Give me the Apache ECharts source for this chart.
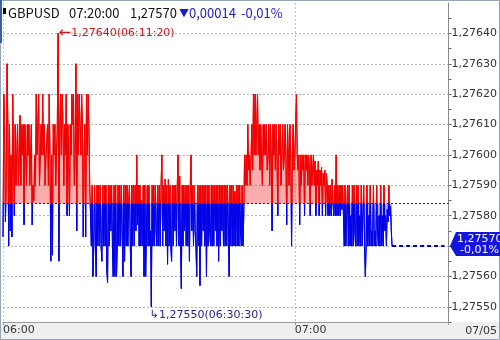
<!DOCTYPE html>
<html><head><meta charset="utf-8">
<script src="https://cdn.jsdelivr.net/npm/echarts@6/dist/echarts.min.js"></script>
<style>html,body{margin:0;padding:0;background:#fff}#c{width:500px;height:340px}</style>
</head><body><div id="c"></div>
<script>
const symbolName = 'GBPUSD';
const lastTimeLabel = '07:20:00';
const dateLabel = '07/05';
const prevClose = 1.27584;
const startHour = 6;
const stepSeconds = 10;
const xTickLabels = ['06:00', '07:00'];
const yTickValues = [1.2755, 1.2756, 1.2757, 1.2758, 1.2759, 1.2760, 1.2761, 1.2762, 1.2763, 1.2764];
const prices = [
1.27573,1.2762,1.2761,1.27578,1.2759,1.2763,
1.2761,1.2757,1.2761,1.27575,1.276,1.27573,
1.2762,1.276,1.2758,1.2761,1.2759,1.276,
1.2761,1.2759,1.276,1.27613,1.2759,1.2761,
1.276,1.2761,1.27577,1.2761,1.276,1.2759,
1.2761,1.276,1.2761,1.2759,1.276,1.2761,
1.27577,1.2759,1.27585,1.276,1.2759,1.2762,
1.276,1.2761,1.2762,1.2759,1.276,1.2761,
1.276,1.2762,1.276,1.2761,1.2759,1.276,
1.276,1.2761,1.2759,1.2762,1.276,1.27565,
1.276,1.27567,1.2761,1.276,1.2761,1.2759,
1.276,1.2761,1.2764,1.27565,1.2761,1.2762,
1.276,1.2762,1.2761,1.2759,1.2761,1.276,
1.2762,1.2758,1.2761,1.276,1.2758,1.2761,
1.276,1.2762,1.2761,1.2762,1.2759,1.276,
1.2763,1.27575,1.2762,1.276,1.2762,1.2761,
1.276,1.2762,1.2761,1.27573,1.276,1.2761,
1.27573,1.2762,1.276,1.2762,1.2761,1.2759,
1.2759,1.2757,1.2759,1.2756,1.2757,1.2759,
1.2757,1.2756,1.2759,1.2757,1.2759,1.2757,
1.2759,1.2757,1.27565,1.2759,1.2757,1.2759,
1.2757,1.2759,1.27562,1.27558,1.2759,1.2757,
1.2759,1.27575,1.2759,1.2757,1.2756,1.2759,
1.2756,1.2759,1.2756,1.2757,1.2759,1.2757,
1.2759,1.2757,1.2759,1.27575,1.2756,1.2759,
1.27565,1.2759,1.2757,1.2759,1.2757,1.27585,
1.2759,1.2757,1.2756,1.2759,1.2757,1.2759,
1.2757,1.2759,1.27575,1.276,1.27577,1.2759,
1.2757,1.2759,1.2757,1.27585,1.2757,1.2759,
1.2756,1.2759,1.2756,1.27575,1.2759,1.2757,
1.2759,1.2757,1.27575,1.2755,1.2759,1.2757,
1.2759,1.2757,1.2759,1.27575,1.2757,1.2759,
1.2757,1.2759,1.2757,1.2759,1.276,1.2757,
1.2759,1.27575,1.27592,1.2757,1.2759,1.27564,
1.27592,1.2757,1.2759,1.2757,1.27565,1.2759,
1.2757,1.2759,1.27575,1.2759,1.2757,1.2759,
1.276,1.2757,1.27593,1.2757,1.27556,1.2759,
1.2757,1.2759,1.27575,1.2759,1.2757,1.2759,
1.2757,1.2759,1.27565,1.2759,1.276,1.27575,
1.2759,1.2757,1.2759,1.27575,1.2757,1.2756,
1.2759,1.2757,1.2759,1.27557,1.2759,1.2757,
1.2759,1.27575,1.2759,1.2757,1.2759,1.2756,
1.2759,1.2757,1.2759,1.27575,1.2757,1.2759,
1.2757,1.2759,1.2757,1.2759,1.27575,1.2759,
1.2757,1.2759,1.27565,1.2759,1.2757,1.2759,
1.27575,1.2759,1.2757,1.2759,1.2757,1.2759,
1.2757,1.2759,1.27575,1.2756,1.2759,1.2757,
1.2759,1.2757,1.2759,1.2757,1.27588,1.2757,
1.2759,1.2757,1.2759,1.2757,1.2759,1.27575,
1.2757,1.2759,1.2757,1.2758,1.276,1.2759,
1.276,1.2759,1.2761,1.27595,1.276,1.2759,
1.276,1.2761,1.27595,1.2762,1.276,1.2762,
1.276,1.2761,1.2762,1.276,1.2761,1.27595,
1.2761,1.276,1.2759,1.2761,1.276,1.2761,
1.276,1.2761,1.27595,1.276,1.2761,1.2759,
1.2761,1.276,1.27575,1.2761,1.276,1.2761,
1.27595,1.2761,1.276,1.2758,1.2761,1.276,
1.2761,1.2759,1.276,1.2761,1.27595,1.276,
1.2761,1.276,1.27577,1.2761,1.276,1.2759,
1.2761,1.276,1.2757,1.276,1.2761,1.27595,
1.276,1.2761,1.2762,1.276,1.27595,1.276,
1.27577,1.276,1.2759,1.276,1.27595,1.276,
1.2758,1.276,1.27595,1.276,1.2759,1.276,
1.27595,1.2758,1.276,1.2759,1.27595,1.276,
1.2759,1.27598,1.2758,1.27595,1.2759,1.27598,
1.2758,1.27595,1.2759,1.27596,1.2758,1.27594,
1.2759,1.27595,1.2758,1.27594,1.2759,1.2758,
1.2759,1.2758,1.2759,1.2758,1.27592,1.27585,
1.2758,1.2759,1.2758,1.276,1.2758,1.2759,
1.2758,1.2759,1.2758,1.2759,1.27582,1.2759,
1.2758,1.2757,1.2759,1.2757,1.2758,1.2759,
1.2757,1.2759,1.2757,1.2758,1.2757,1.2759,
1.2757,1.2759,1.27575,1.2757,1.2759,1.2757,
1.2759,1.2757,1.2758,1.2757,1.2759,1.2757,
1.2757,1.2759,1.2757,1.2756,1.2757,1.2759,
1.2757,1.2758,1.2757,1.2759,1.2757,1.27575,
1.2757,1.2759,1.2757,1.27575,1.2757,1.2759,
1.27575,1.2757,1.2758,1.2757,1.2759,1.2757,
1.2758,1.2757,1.2759,1.27575,1.2758,1.2757,
1.27582,1.27578,1.2759,1.2758,1.27583,1.27575,
1.2757
];

const X_MAX = 91.6;       // axis extent in minutes after 06:00
const DASH_END = 90.8;
const Y_MIN = 1.27545, Y_MAX = 1.2765;
const AXIS_FONT = 'DejaVu Sans';
const HEAD_FONT = '"Noto Sans CJK JP", sans-serif';
const RED = '#f00000', BLUE = '#0000e8';

const stepMin = stepSeconds / 60;
const seriesData = prices.map((p, i) => [i * stepMin, p]);
const fmt = v => v.toFixed(5).replace('.', ',');
const pad = n => (n < 10 ? '0' : '') + n;
const timeStr = i => {
  const s = startHour * 3600 + i * stepSeconds;
  return pad(Math.floor(s / 3600)) + ':' + pad(Math.floor(s / 60) % 60) + ':' + pad(s % 60);
};
let iMax = 0, iMin = 0;
prices.forEach((p, i) => { if (p > prices[iMax]) iMax = i; if (p < prices[iMin]) iMin = i; });
const iLast = prices.length - 1;
const pLast = prices[iLast];
const change = pLast - prevClose;
const pct = change / prevClose * 100;
const changeArrow = change < 0 ? '▼' : '▲';
const changeVal = Math.abs(change).toFixed(5).replace('.', ',');
const pctStr = (pct < 0 ? '-' : '+') + Math.abs(pct).toFixed(2).replace('.', ',') + '%';

const chart = echarts.init(document.getElementById('c'), null, { renderer: 'canvas' });
const hdr = (x, text, fill, size) => ({ type: 'text', z: 101, x: x, y: 13, style: { text: text, font: (size || 13) + 'px ' + HEAD_FONT, fill: fill, verticalAlign: 'middle' } });
const baseGraphic = [
  { type: 'rect', z: -10, shape: { x: 0, y: 322, width: 500, height: 18 }, style: { fill: '#efefef' } },
  { type: 'rect', z: 100, shape: { x: 0.5, y: 0.5, width: 499, height: 339 }, style: { fill: 'none', stroke: '#96a4b8', lineWidth: 1 } },
  { type: 'rect', z: 101, shape: { x: 0, y: 0, width: 2, height: 43 }, style: { fill: '#3d5f9c' } },
  { type: 'rect', z: 101, shape: { x: 3, y: 8, width: 3, height: 6 }, style: { fill: '#000' } },
  hdr(8, symbolName, '#111'),
  hdr(69, lastTimeLabel, '#111'),
  hdr(130, fmt(pLast), '#111'),
  hdr(179, changeArrow, '#1c1cc4', 10),
  hdr(189, changeVal, '#1c1cc4'),
  hdr(241, pctStr, '#1c1cc4'),
  { type: 'text', z: 101, x: 497, y: 331, style: { text: dateLabel, font: '11px ' + AXIS_FONT, fill: '#333', align: 'right', verticalAlign: 'middle' } }
];

const hLine = (v, style) => [{ coord: [0, v], lineStyle: style }, { coord: [X_MAX, v] }];
const gridLineItems = yTickValues.map(v => hLine(v, { type: [2, 2], color: '#b4b4b4', width: 1 }));

try {
chart.setOption({
  animation: false,
  backgroundColor: '#fff',
  grid: { left: 3, right: 51, top: 3, bottom: 18 },
  xAxis: {
    type: 'value', min: 0, max: X_MAX, interval: 60,
    axisLine: { show: true, onZero: false, lineStyle: { color: '#999' } },
    axisTick: { show: true, length: 3, lineStyle: { color: '#999' } },
    axisLabel: {
      align: 'left', margin: 3, fontSize: 11, fontFamily: AXIS_FONT, color: '#333',
      formatter: v => (Math.abs(v % 60) < 1e-6 ? (xTickLabels[Math.round(v / 60)] || '') : '')
    },
    splitLine: { show: true, lineStyle: { type: [2, 2], color: '#c4c4c4' } }
  },
  yAxis: {
    type: 'value', position: 'right', min: Y_MIN, max: Y_MAX, interval: 0.00005,
    axisLine: { show: true, onZero: false, lineStyle: { color: '#8a8a8a' } },
    axisTick: { show: true, inside: false, length: 3, lineStyle: { color: '#666' } },
    axisLabel: {
      margin: 3, fontSize: 11, fontFamily: AXIS_FONT, color: '#333', showMaxLabel: false,
      formatter: v => (Math.round(v * 1e5) % 10 === 0 ? fmt(v) : '')
    },
    splitLine: { show: false }
  },
  visualMap: {
    type: 'piecewise', show: false, dimension: 1, seriesIndex: 0,
    pieces: [{ gt: prevClose, lte: Y_MAX, color: RED }, { gte: Y_MIN, lte: prevClose, color: BLUE }]
  },
  series: [
    {
      type: 'line', data: seriesData, showSymbol: false, symbol: 'none', z: 3,
      lineStyle: { width: 1 },
      areaStyle: { origin: prevClose, opacity: 0.32 },
      markPoint: {
        symbol: 'rect', symbolSize: 1, itemStyle: { color: 'rgba(0,0,0,0)' }, silent: true,
        data: [
          {
            coord: seriesData[iMax].slice(),
            label: {
              show: true, position: 'right', distance: 0,
              formatter: '{a|←}{t|' + fmt(prices[iMax]) + '(' + timeStr(iMax) + ')}',
              rich: { a: { fontSize: 15, color: '#c81818', fontFamily: AXIS_FONT }, t: { fontSize: 11, color: '#c81818', fontFamily: AXIS_FONT } }
            }
          },
          {
            coord: seriesData[iMin].slice(),
            label: {
              show: true, position: [-1, 3], align: 'left', verticalAlign: 'top',
              formatter: '{a|↳}{t|' + fmt(prices[iMin]) + '(' + timeStr(iMin) + ')}',
              rich: { a: { fontSize: 11, color: '#26268c', fontFamily: AXIS_FONT }, t: { fontSize: 11, color: '#26268c', fontFamily: AXIS_FONT } }
            }
          }
        ]
      },
      markLine: {
        silent: true, z: 6, symbol: ['none', 'none'], label: { show: false },
        data: [
          hLine(prevClose, { type: [2, 2], color: '#222', width: 1 }),
          [{ coord: seriesData[iLast].slice(), lineStyle: { type: [4, 3], color: '#0000c8', width: 2 } }, { coord: [DASH_END, pLast], lineStyle: { type: [4, 3], color: '#0000c8', width: 2 } }]
        ]
      }
    },
    {
      type: 'line', data: [], z: 1, silent: true,
      markLine: { silent: true, z: 1, symbol: ['none', 'none'], label: { show: false }, data: gridLineItems }
    }
  ],
  graphic: baseGraphic
});

const pt = chart.convertToPixel({ seriesIndex: 0 }, seriesData[iLast]);
const py = pt[1];
chart.setOption({
  graphic: baseGraphic.concat([
    { type: 'polygon', z: 102, shape: { points: [[450, py], [456, py - 14], [500, py - 14], [500, py + 10], [456, py + 10]] }, style: { fill: '#1414e0' } },
    { type: 'text', z: 103, x: 457, y: py - 7, style: { text: fmt(pLast), font: '11px ' + AXIS_FONT, fill: '#fff', verticalAlign: 'middle' } },
    { type: 'text', z: 103, x: 499, y: py + 4, style: { text: pctStr, font: '11px ' + AXIS_FONT, fill: '#fff', align: 'right', verticalAlign: 'middle' } }
  ])
});
} catch (e) {
  const d = document.createElement('pre'); d.style.cssText = 'position:absolute;top:40px;left:10px;font-size:9px;background:#ff0;white-space:pre-wrap;width:480px';
  d.textContent = String(e.stack).slice(0, 900); document.body.appendChild(d);
}
</script></body></html>
